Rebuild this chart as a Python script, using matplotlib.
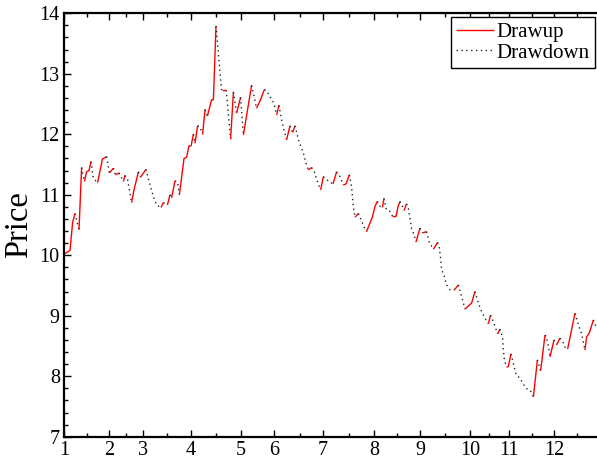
import numpy as np
import matplotlib
matplotlib.use("Agg")
import matplotlib.pyplot as plt
from matplotlib.ticker import FixedLocator, MultipleLocator

plt.rcParams['font.family'] = ['Liberation Serif', 'DejaVu Serif']

# ---- data (trading day index, price) ----
day = [0, 3, 4.3, 5.5, 7.5, 8.8, 10.2, 11.3, 12.5, 13.5, 14.7, 16.8, 19.2, 21.3, 22.7, 24.7,
       25.7, 27.5, 29.7, 30.5, 31.8, 33.8, 35, 37.2, 38.3, 41, 42.7, 44.7, 46.3, 48.5, 49.7,
       51.7, 53, 53.8, 55.5, 56.8, 57.7, 60, 61.3, 62.5, 63.5, 64.7, 65.5, 66.8, 68, 69.3,
       70.5, 71.7, 73.8, 74.7, 76, 78.3, 78.8, 81, 81.3, 83.3, 84.7, 86.3, 88.3, 89.7, 93.8,
       96.3, 98, 100.2, 101.3, 103, 105, 106.3, 107.5, 108.8, 109.7, 111.3, 113, 114.3, 115.5,
       117.5, 119.7, 121, 122.2, 123.8, 125.5, 126.3, 128.3, 129.7, 131.3, 133.5, 134.5, 136.3,
       138, 139.7, 141, 142.7, 143.8, 144.2, 144.7, 145.5, 147.2, 148, 150, 151.3, 152.2,
       154.2, 155.5, 156.7, 158, 159.2, 160, 161, 162.7, 164.3, 166, 167, 168, 169.2, 170,
       171.3, 172.2, 173, 173.8, 175, 176, 178, 179.3, 181.3, 182.7, 184.7, 186.8, 187.7,
       188.3, 188.8, 190, 191.3, 193, 195, 197.2, 198.8, 200.5, 203.8, 205.5, 207.2, 208.8,
       210.5, 212.2, 213.3, 214.7, 216.8, 218, 219.3, 219.7, 220.2, 221.3, 222.2, 223.5,
       224.7, 225.5, 226.3, 228, 228.8, 231, 233, 234.7, 236.7, 238.3, 240.5, 241, 242.2,
       243, 243.8, 245, 246.3, 248, 249.7, 250.5, 251.8, 255.5, 257.2, 258.8, 260.5, 261.3,
       262.7, 264.7, 266.3]
price = [10.02, 10.08, 10.54, 10.69, 10.42, 11.45, 11.22, 11.38, 11.40, 11.55, 11.27, 11.20,
         11.59, 11.63, 11.36, 11.44, 11.33, 11.36, 11.22, 11.32, 11.25, 10.87, 11.08, 11.38,
         11.29, 11.42, 11.20, 10.97, 10.83, 10.79, 10.87, 10.83, 11.00, 10.95, 11.23, 11.21,
         11.00, 11.60, 11.62, 11.81, 11.80, 12.00, 11.85, 12.14, 12.12, 12.00, 12.41, 12.30,
         12.57, 12.57, 13.79, 12.90, 12.73, 12.73, 12.66, 11.92, 12.70, 12.35, 12.61, 11.99,
         12.81, 12.43, 12.55, 12.74, 12.72, 12.62, 12.51, 12.32, 12.48, 12.24, 12.11, 11.91,
         12.14, 12.03, 12.14, 11.88, 11.69, 11.52, 11.41, 11.45, 11.36, 11.25, 11.08, 11.30,
         11.25, 11.20, 11.18, 11.38, 11.30, 11.16, 11.18, 11.33, 11.13, 10.97, 10.79, 10.63,
         10.69, 10.63, 10.47, 10.39, 10.47, 10.63, 10.81, 10.89, 10.81, 10.79, 10.94, 10.77,
         10.74, 10.64, 10.64, 10.80, 10.89, 10.81, 10.74, 10.85, 10.77, 10.61, 10.44, 10.34,
         10.22, 10.45, 10.37, 10.39, 10.21, 10.10, 10.21, 10.12, 9.95, 9.76, 9.67, 9.51, 9.43,
         9.42, 9.51, 9.32, 9.11, 9.21, 9.40, 9.21, 9.07, 8.96, 8.87, 9.01, 8.90, 8.70, 8.78,
         8.64, 8.43, 8.27, 8.15, 8.16, 8.37, 8.21, 8.10, 8.01, 7.97, 7.92, 7.80, 7.77, 7.66,
         8.27, 8.09, 8.68, 8.66, 8.50, 8.32, 8.43, 8.60, 8.52, 8.63, 8.55, 8.48, 8.45, 9.04,
         8.85, 8.70, 8.43, 8.65, 8.72, 8.93, 8.80]

month_ticks = [0, 22.5, 39.35, 63.5, 88.35, 105, 129.35, 155, 178, 203, 222.5, 245]
month_labels = ['1', '2', '3', '4', '5', '6', '7', '8', '9', '10', '11', '12']
minor_ticks = [11.35, 31, 51.35, 76, 118, 142.5, 166.5, 190.5, 212.5, 234, 256.5]

W, H = 597, 466
fig = plt.figure(figsize=(W / 100, H / 100), dpi=100)
left, right, top, bottom = 64, 604, 13.3, 436.7
ax = fig.add_axes([left / W, 1 - bottom / H, (right - left) / W, (bottom - top) / H])

x = np.asarray(day, dtype=float)
p = np.asarray(price, dtype=float)
d = np.sign(np.diff(p))
d[d == 0] = 1

# split into runs of same direction
runs = []
start = 0
for i in range(1, len(d) + 1):
    if i == len(d) or d[i] != d[start]:
        runs.append((start, i, d[start]))
        start = i

up_done = down_done = False
for s, e, sg in runs:
    xs = x[s:e + 1]
    ys = p[s:e + 1]
    if sg > 0:
        ax.plot(xs, ys, color='red', lw=1.0, solid_capstyle='butt',
                label=None if up_done else 'Drawup')
        up_done = True
    else:
        ax.plot(xs, ys, color='#222222', lw=1.0, linestyle=(0, (1, 2.5)),
                label=None if down_done else 'Drawdown')
        down_done = True

ax.set_xlim(0, (right - left) / 2)
ax.set_ylim(7, 14)
ax.set_ylabel('Price', fontsize=23.5, labelpad=4)

ax.xaxis.set_major_locator(FixedLocator(month_ticks))
ax.set_xticklabels(month_labels)
ax.xaxis.set_minor_locator(FixedLocator(minor_ticks))
ax.yaxis.set_major_locator(MultipleLocator(1))
ax.yaxis.set_minor_locator(MultipleLocator(0.2))

ax.tick_params(which='both', direction='in', top=True, right=True, labelsize=14.5,
               width=1.0, pad=3, colors='black')
ax.tick_params(which='major', length=5)
ax.tick_params(which='minor', length=3)
for sp in ax.spines.values():
    sp.set_linewidth(1.6)

leg = ax.legend(loc='upper left', bbox_to_anchor=((451 - left) / (right - left), 1 - 4 / (bottom - top)),
                fontsize=15, frameon=True, fancybox=False, framealpha=1, edgecolor='black',
                borderaxespad=0, handlelength=1.8, handletextpad=0.15, borderpad=0.25,
                labelspacing=0.05)
leg.get_frame().set_linewidth(1.0)

fig.savefig('out.png', dpi=100)
